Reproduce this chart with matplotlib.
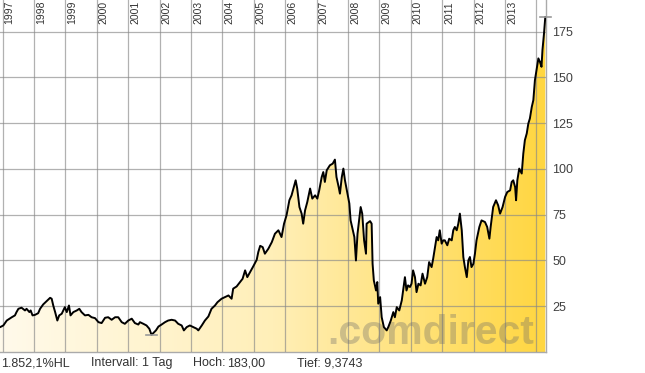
import numpy as np
import matplotlib
matplotlib.use("Agg")
import matplotlib.pyplot as plt
from matplotlib.colors import LinearSegmentedColormap
from matplotlib.patches import Polygon

# price history (decimal year, price)
years = [
    1996.92, 1997.02, 1997.13, 1997.29, 1997.39, 1997.44, 1997.50, 1997.60, 1997.71, 1997.76,
    1997.85, 1997.89, 1997.95, 1998.03, 1998.13, 1998.19, 1998.29, 1998.40, 1998.51, 1998.56,
    1998.61, 1998.67, 1998.74, 1998.80, 1998.88, 1998.93, 1998.98, 1999.04, 1999.11, 1999.16,
    1999.25, 1999.36, 1999.44, 1999.51, 1999.62, 1999.73, 1999.83, 1999.94, 2000.05, 2000.15,
    2000.26, 2000.36, 2000.47, 2000.58, 2000.68, 2000.79, 2000.89, 2001.00, 2001.11, 2001.21,
    2001.32, 2001.37, 2001.48, 2001.58, 2001.67, 2001.74, 2001.82, 2001.88, 2001.96, 2002.06,
    2002.17, 2002.27, 2002.38, 2002.49, 2002.59, 2002.70, 2002.77, 2002.86, 2002.96, 2003.07,
    2003.18, 2003.23, 2003.34, 2003.44, 2003.55, 2003.65, 2003.76, 2003.84, 2003.97, 2004.08,
    2004.19, 2004.29, 2004.34, 2004.45, 2004.56, 2004.64, 2004.72, 2004.79, 2004.88, 2004.98,
    2005.09, 2005.14, 2005.20, 2005.28, 2005.35, 2005.46, 2005.57, 2005.67, 2005.78, 2005.88,
    2005.96, 2006.04, 2006.13, 2006.20, 2006.26, 2006.33, 2006.38, 2006.45, 2006.52, 2006.57,
    2006.63, 2006.70, 2006.79, 2006.86, 2006.95, 2007.02, 2007.08, 2007.16, 2007.21, 2007.26,
    2007.32, 2007.42, 2007.51, 2007.58, 2007.63, 2007.70, 2007.74, 2007.80, 2007.85, 2007.90,
    2007.98, 2008.04, 2008.08, 2008.15, 2008.20, 2008.25, 2008.30, 2008.35, 2008.40, 2008.45,
    2008.51, 2008.57, 2008.59, 2008.70, 2008.75, 2008.78, 2008.82, 2008.89, 2008.93, 2008.96,
    2009.02, 2009.07, 2009.14, 2009.23, 2009.28, 2009.36, 2009.44, 2009.49, 2009.55, 2009.63,
    2009.71, 2009.78, 2009.81, 2009.86, 2009.91, 2009.97, 2010.02, 2010.07, 2010.13, 2010.18,
    2010.24, 2010.31, 2010.37, 2010.45, 2010.52, 2010.58, 2010.66, 2010.71, 2010.76, 2010.82,
    2010.87, 2010.92, 2010.98, 2011.03, 2011.08, 2011.16, 2011.22, 2011.30, 2011.35, 2011.40,
    2011.46, 2011.51, 2011.56, 2011.62, 2011.67, 2011.72, 2011.78, 2011.83, 2011.88, 2011.93,
    2011.99, 2012.04, 2012.09, 2012.18, 2012.25, 2012.36, 2012.43, 2012.50, 2012.54, 2012.62,
    2012.71, 2012.78, 2012.84, 2012.92, 2013.00, 2013.07, 2013.16, 2013.21, 2013.26, 2013.32,
    2013.35, 2013.39, 2013.45, 2013.53, 2013.58, 2013.63, 2013.69, 2013.74, 2013.79, 2013.85,
    2013.90, 2013.95, 2014.00, 2014.06, 2014.11, 2014.16, 2014.19, 2014.24, 2014.28,
]
price = [
    13.6, 14.5, 17.2, 19.0, 20.0, 21.8, 23.6, 24.2, 22.7, 23.6,
    21.8, 22.7, 20.0, 20.3, 21.2, 23.6, 26.0, 27.8, 29.6, 29.1,
    25.4, 21.8, 17.2, 20.0, 20.9, 22.7, 24.5, 21.8, 25.4, 20.0,
    21.8, 22.7, 23.6, 21.8, 20.0, 20.3, 19.0, 18.5, 16.3, 15.8,
    18.7, 19.0, 17.6, 19.0, 19.0, 16.3, 15.4, 17.2, 18.2, 15.8,
    15.0, 16.3, 15.4, 14.5, 12.7, 9.37, 10.8, 11.8, 13.9, 15.0,
    16.3, 17.2, 17.6, 17.2, 15.4, 14.5, 11.8, 13.6, 14.5, 13.6,
    12.7, 11.8, 14.5, 17.2, 19.4, 23.6, 25.4, 27.2, 29.1, 30.0,
    30.9, 29.1, 34.6, 35.8, 38.2, 40.0, 44.6, 40.9, 43.7, 46.8,
    50.4, 54.6, 58.0, 57.3, 53.7, 56.4, 60.0, 64.6, 66.5, 62.8,
    70.1, 74.7, 82.9, 85.6, 89.3, 93.8, 89.3, 79.2, 75.6, 70.1,
    77.4, 81.9, 89.3, 83.8, 85.6, 83.8, 88.3, 95.6, 98.3, 92.9,
    99.3, 102.0, 102.9, 105.1, 95.6, 90.1, 86.5, 95.6, 100.2, 93.8,
    86.5, 81.1, 71.9, 66.5, 62.8, 50.0, 64.6, 71.9, 79.2, 75.6,
    61.0, 53.7, 70.1, 71.5, 70.1, 48.2, 39.1, 33.6, 38.2, 26.4,
    30.0, 19.0, 13.6, 11.8, 13.6, 17.2, 21.8, 19.0, 24.5, 22.7,
    28.2, 37.3, 40.9, 33.6, 36.4, 35.5, 37.3, 44.6, 40.9, 32.7,
    37.3, 36.4, 42.8, 37.3, 40.9, 49.1, 46.4, 51.0, 56.4, 62.8,
    61.0, 66.5, 59.2, 61.0, 61.0, 58.3, 61.9, 61.0, 66.5, 68.3,
    66.5, 70.1, 75.6, 66.5, 51.9, 46.4, 40.9, 50.0, 51.9, 46.4,
    48.2, 53.7, 61.0, 68.3, 71.9, 71.0, 68.3, 61.9, 68.3, 79.2,
    82.9, 80.1, 75.6, 79.2, 84.7, 87.4, 88.3, 92.9, 93.8, 90.1,
    82.9, 93.8, 100.2, 97.5, 108.4, 115.7, 119.4, 124.8, 127.6, 133.9,
    137.6, 148.5, 154.0, 160.4, 158.5, 155.8, 164.9, 174.1, 183.0,
]

year_ticks = list(range(1997, 2015))
year_labels = [str(y) for y in range(1997, 2014)]
price_ticks = [25, 50, 75, 100, 125, 150, 175]
footer = [("1.852,1%HL", 1), ("Intervall: 1 Tag", 91), ("Hoch:", 193),
          ("183,00", 227), ("Tief: 9,3743", 297)]

plt.rcParams['font.family'] = ['Liberation Sans', 'DejaVu Sans']

W, H = 645, 373
fig = plt.figure(figsize=(W / 100, H / 100), dpi=100)
ax = fig.add_axes([0, 21 / H, 546 / W, 352 / H])

x0, x1 = 1996.914, 2014.303
ymax = 192.3

# gradient fill under the curve
cmap = LinearSegmentedColormap.from_list("gold", ["#fffaeb", "#ffefb8", "#ffd640"])
grad = np.linspace(0, 1, 256).reshape(1, -1)
im = ax.imshow(grad, extent=[x0, x1, 0, ymax], aspect='auto', cmap=cmap,
               origin='lower', interpolation='bilinear', zorder=1)
verts = [(years[0], 0)] + list(zip(years, price)) + [(years[-1], 0), (x0, 0), (x0, price[0])]
clip = Polygon(verts, closed=True, facecolor='none', edgecolor='none')
ax.add_patch(clip)
im.set_clip_path(clip)

ax.plot([x0] + years, [price[0]] + price, color='black', lw=1.4, zorder=4)

# high / low markers
i_hi = int(np.argmax(price))
i_lo = int(np.argmin(price))
for i in (i_hi, i_lo):
    ax.plot([years[i] - 0.17, years[i] + 0.17], [price[i], price[i]],
            color='#9a9a9a', lw=1.2, clip_on=False, zorder=5)

ax.set_xlim(x0, x1)
ax.set_ylim(0, ymax)

ax.set_xticks(year_ticks)
ax.set_yticks(price_ticks)
ax.set_axisbelow(False)
ax.grid(True, color='#888888', alpha=0.65, lw=0.9)
ax.tick_params(axis='x', length=0, labelbottom=False)
ax.yaxis.tick_right()
ax.tick_params(axis='y', length=0, pad=4.5, labelsize=9, labelcolor='#404040')

for s in ('left', 'top'):
    ax.spines[s].set_visible(False)
for s in ('right', 'bottom'):
    ax.spines[s].set_color('#aaaaaa')
    ax.spines[s].set_linewidth(1.0)

for lab, yr in zip(year_labels, year_ticks):
    ax.annotate(lab, xy=(yr, 1), xycoords=('data', 'axes fraction'),
                xytext=(2, -1), textcoords='offset pixels', rotation=90,
                ha='left', va='top', fontsize=7.5, color='#333333')

# watermark
ax.text(327 / W, (H - 343.5) / H, ".comdirect", transform=fig.transFigure,
        fontsize=29.5, fontweight='bold', color='#6a6a6a', alpha=0.34,
        ha='left', va='baseline', zorder=3, clip_on=False)

for txt, px in footer:
    fig.text(px / W, (H - 363) / H, txt, fontsize=9, color='#333333',
             ha='left', va='center')

fig.savefig("out.png", dpi=100)
